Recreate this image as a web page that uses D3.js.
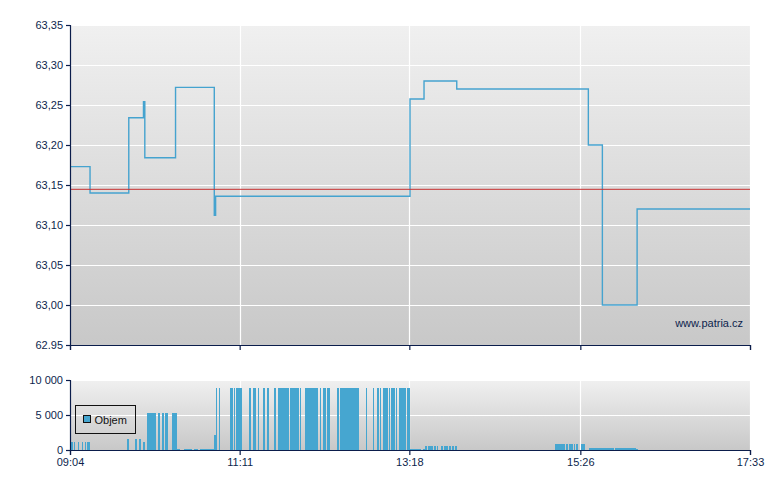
<!DOCTYPE html>
<html>
<head>
<meta charset="utf-8">
<script src="https://cdn.jsdelivr.net/npm/d3@7/dist/d3.min.js"></script>
<style>
  html, body { margin: 0; padding: 0; background: #ffffff; }
  svg { display: block; }
  text { font-family: "Liberation Sans", Arial, sans-serif; font-size: 11px; fill: #0d1f4d; }
</style>
</head>
<body>
<svg id="chart" width="780" height="490"></svg>
<script>
// ---------- data ----------
const xTickLabels = ["09:04", "11:11", "13:18", "15:26", "17:33"];
const priceTicks = [62.95, 63.00, 63.05, 63.10, 63.15, 63.20, 63.25, 63.30, 63.35];
const volumeTicks = [0, 5000, 10000];
const referencePrice = 63.1446;

const priceTimes = ["09:04", "09:19", "09:48", "09:59", "10:00", "10:23", "10:52", "10:53",
                    "13:18:30", "13:29", "13:53:30", "15:32", "15:42:30", "16:08:30", "17:33"];
const priceValues = [63.173, 63.140, 63.234, 63.254, 63.184, 63.272, 63.112, 63.136,
                     63.2575, 63.280, 63.270, 63.200, 63.000, 63.120, 63.120];

const volStart = ["09:05","09:07","09:10","09:13","09:15","09:17","09:47","09:53","09:56","09:58:30",
  "10:01:30","10:09:30","10:13","10:15","10:20","10:24","10:29","10:37","10:41","10:52",
  "10:53:30","10:55:30","11:04","11:06:30","11:08:30","11:18","11:21","11:24:30","11:28:30","11:31:30",
  "11:36:30","11:39:30","11:40:30","11:48:30","11:56","12:00","12:11","12:13:30","12:16:30","12:24",
  "12:26","12:45:30","12:51","12:54","12:56","12:58:30","13:03","13:04:30","13:08","13:10:30",
  "13:16","13:18:30","13:28","13:29:30","13:32","13:36:30","13:38:30","13:41:30","13:44","13:48",
  "13:50","13:52","15:07","15:15:30","15:17:30","15:21","15:22:30","15:26:30","15:32:30","15:52",
  "16:08"];
const volEnd = ["09:06","09:08","09:11","09:14","09:16","09:19","09:48","09:54","09:57","10:00",
  "10:08","10:11:30","10:14","10:17","10:24","10:26","10:35","10:40","10:52","10:53",
  "10:54","10:56:30","11:06","11:07:30","11:12:30","11:19:30","11:23","11:25:30","11:30","11:33",
  "11:38","11:40","11:48","11:55:30","11:57","12:10","12:12","12:15:30","12:18:30","12:25:30",
  "12:40:30","12:46:30","12:51:30","12:55:30","12:57","13:02","13:03:30","13:07:30","13:09","13:15:30",
  "13:18:30","13:27","13:29:30","13:31","13:35:30","13:38","13:39:30","13:43","13:47","13:49",
  "13:51:30","13:53:30","15:14:30","15:17","15:20:30","15:22","15:24","15:29:30","15:51","16:07:30",
  "16:09"];
const volValues = [1140,1140,1140,1140,1140,1140,1610,1610,1610,1140,
  5290,5290,5290,5290,5290,150,190,190,190,2140,
  8860,8860,8860,8860,8860,8860,8860,8860,8860,8860,
  8860,8860,8860,8860,8860,8860,8860,8860,8860,8860,
  8860,8860,8860,8860,8860,8860,8860,8860,8860,8860,
  8860,150,150,570,570,570,570,570,570,570,
  570,570,860,860,860,860,860,860,290,290,
  150];
const legendLabels = ["Objem"];

// ---------- helpers ----------
function toMin(s) {
  const p = s.split(":").map(Number);
  return p[0] * 60 + p[1] + (p[2] || 0) / 60;
}
const loc = d3.formatLocale({ decimal: ",", thousands: "\u00a0", grouping: [3], currency: ["", ""] });
const fmtPrice = loc.format(".2f");
const fmtVol = loc.format(",d");

const svg = d3.select("#chart");
const L = 70, R = 750;
const pTop = 25, pBot = 345;
const vTop = 380, vBot = 450;
const navy = "#0b1d4b";

const xTicks = xTickLabels.map(toMin);
const x = d3.scaleLinear().domain([xTicks[0], xTicks[xTicks.length - 1]]).range([L, R]);
const yP = d3.scaleLinear().domain([62.95, 63.35]).range([pBot, pTop]);
const yV = d3.scaleLinear().domain([0, 10000]).range([vBot, vTop]);

// gradient + clip for the price panel image area
const defs = svg.append("defs");
const g1 = defs.append("linearGradient").attr("id", "bg").attr("x1", 0).attr("y1", 0).attr("x2", 0).attr("y2", 1);
g1.append("stop").attr("offset", "0%").attr("stop-color", "#f0f0f0");
g1.append("stop").attr("offset", "100%").attr("stop-color", "#c8c8c8");
defs.append("clipPath").attr("id", "pclip").append("rect")
  .attr("x", -L).attr("y", 0).attr("width", 780).attr("height", 349);

// ---------- price panel ----------
svg.append("rect").attr("x", L).attr("y", pTop).attr("width", R - L).attr("height", pBot - pTop).attr("fill", "url(#bg)");
const gp = svg.append("g");
gp.selectAll("line.hg").data(priceTicks.slice(1)).enter().append("line")
  .attr("x1", L).attr("x2", R).attr("y1", d => Math.round(yP(d)) + 0.5).attr("y2", d => Math.round(yP(d)) + 0.5)
  .attr("stroke", "#ffffff").attr("stroke-width", 1.2);
gp.selectAll("line.vg").data(xTicks.slice(1)).enter().append("line")
  .attr("x1", d => Math.round(x(d)) + 0.5).attr("x2", d => Math.round(x(d)) + 0.5).attr("y1", pTop).attr("y2", pBot)
  .attr("stroke", "#ffffff").attr("stroke-width", 1.2);

const priceData = priceTimes.map((t, i) => [toMin(t), priceValues[i]]);
gp.append("path").datum(priceData)
  .attr("d", d3.line().x(d => x(d[0])).y(d => yP(d[1])).curve(d3.curveStepAfter))
  .attr("fill", "none").attr("stroke", "#45a3cf").attr("stroke-width", 1.4);

gp.append("line").attr("x1", L).attr("x2", R)
  .attr("y1", yP(referencePrice)).attr("y2", yP(referencePrice))
  .attr("stroke", "#c83232").attr("stroke-width", 1);

gp.append("text").attr("x", 743).attr("y", 327).attr("text-anchor", "end").text("www.patria.cz");

const axP = svg.append("g").attr("transform", `translate(${L},0)`).attr("clip-path", "url(#pclip)")
  .call(d3.axisLeft(yP).tickValues(priceTicks).tickFormat(fmtPrice).tickSize(4).tickPadding(3));
const axPB = svg.append("g").attr("transform", `translate(0,${pBot})`)
  .call(d3.axisBottom(x).tickValues(xTicks).tickFormat("").tickSize(5));

// ---------- volume panel ----------
svg.append("rect").attr("x", L).attr("y", vTop).attr("width", R - L).attr("height", vBot - vTop).attr("fill", "url(#bg)");
const gv = svg.append("g");
gv.selectAll("line.hg").data(volumeTicks.slice(1)).enter().append("line")
  .attr("x1", L).attr("x2", R).attr("y1", d => Math.round(yV(d)) + 0.5).attr("y2", d => Math.round(yV(d)) + 0.5)
  .attr("stroke", "#ffffff").attr("stroke-width", 1.2);
gv.selectAll("line.vg").data(xTicks.slice(1)).enter().append("line")
  .attr("x1", d => Math.round(x(d)) + 0.5).attr("x2", d => Math.round(x(d)) + 0.5).attr("y1", vTop).attr("y2", vBot)
  .attr("stroke", "#ffffff").attr("stroke-width", 1.2);

const volData = volStart.map((s, i) => ({ s: toMin(s), e: toMin(volEnd[i]), v: volValues[i] }));
gv.selectAll("rect.bar").data(volData).enter().append("rect")
  .attr("x", d => x(d.s))
  .attr("width", d => Math.max(1, x(d.e) - x(d.s)))
  .attr("y", d => yV(d.v))
  .attr("height", d => yV(0) - yV(d.v))
  .attr("fill", "#46a6d0")
  .attr("shape-rendering", "crispEdges");

const axV = svg.append("g").attr("transform", `translate(${L},0)`)
  .call(d3.axisLeft(yV).tickValues(volumeTicks).tickFormat(fmtVol).tickSize(4).tickPadding(3));
const axVB = svg.append("g").attr("transform", `translate(0,${vBot})`)
  .call(d3.axisBottom(x).tickValues(xTicks).tickFormat((d, i) => xTickLabels[i]).tickSize(5).tickPadding(3));

[axP, axPB, axV, axVB].forEach(a => {
  a.select(".domain").attr("stroke", navy).attr("stroke-width", 1.2);
  a.selectAll(".tick line").attr("stroke", navy).attr("stroke-width", 1.2);
  a.selectAll(".tick text").attr("fill", navy).style("font-size", "11px")
    .style("font-family", '"Liberation Sans", Arial, sans-serif');
});

// legend
const lg = svg.append("g").attr("transform", "translate(75.5,405.5)");
lg.append("rect").attr("width", 60).attr("height", 28).attr("fill", "none").attr("stroke", "#111111").attr("stroke-width", 1);
lg.selectAll("g.item").data(legendLabels).enter().append("g").each(function (d) {
  const it = d3.select(this);
  it.append("rect").attr("x", 8).attr("y", 10).attr("width", 7).attr("height", 7)
    .attr("fill", "#46a6d0").attr("stroke", "#111111").attr("stroke-width", 1);
  it.append("text").attr("x", 19).attr("y", 18.5).style("fill", "#111111").text(d);
});
</script>
</body>
</html>
